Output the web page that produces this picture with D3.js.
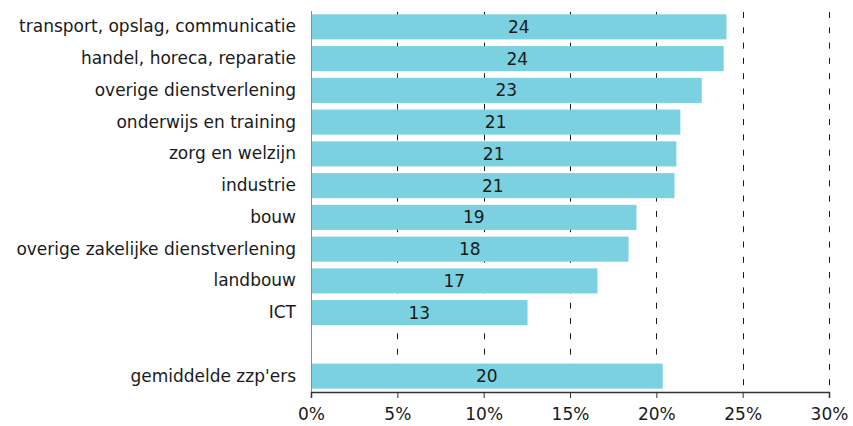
<!DOCTYPE html>
<html>
<head>
<meta charset="utf-8">
<script src="https://cdn.jsdelivr.net/npm/d3@7"></script>
<style>
  body { margin: 0; background: #fff; }
  svg text { font-family: Verdana, "DejaVu Sans", sans-serif; fill: #1a1a1a; }
</style>
</head>
<body>
<div id="chart"></div>
<script>
// categories top to bottom; "" is the empty slot before the average
var categories = [
  "transport, opslag, communicatie",
  "handel, horeca, reparatie",
  "overige dienstverlening",
  "onderwijs en training",
  "zorg en welzijn",
  "industrie",
  "bouw",
  "overige zakelijke dienstverlening",
  "landbouw",
  "ICT",
  "",
  "gemiddelde zzp'ers"
];
var values = [24.06, 23.9, 22.63, 21.39, 21.16, 21.05, 18.85, 18.39, 16.59, 12.54, null, 20.37];
var ticks = [0, 5, 10, 15, 20, 25, 30];

// set the dimensions and margins of the graph
var margin = { top: 11, right: 24, bottom: 34, left: 311 },
  width = 853 - margin.left - margin.right,
  height = 426 - margin.top - margin.bottom;

var data = categories.map(function (c, i) {
  return { key: "c" + i, name: c, value: values[i] };
});

var x = d3.scaleLinear().domain([0, 30]).range([0, width]);
var y = d3.scaleBand()
  .domain(data.map(function (d) { return d.key; }))
  .range([0, height])
  .paddingInner(0.21)
  .paddingOuter(0.105);

var svg = d3.select("#chart")
  .append("svg")
  .attr("width", width + margin.left + margin.right)
  .attr("height", height + margin.top + margin.bottom)
  .append("g")
  .attr("transform", "translate(" + margin.left + "," + margin.top + ")");

// dashed grid lines
svg.selectAll(".grid")
  .data(ticks.slice(1))
  .enter().append("line")
  .attr("class", "grid")
  .attr("x1", function (d) { return Math.round(x(d)) + 0.5; })
  .attr("x2", function (d) { return Math.round(x(d)) + 0.5; })
  .attr("y1", 1)
  .attr("y2", height)
  .attr("stroke", "#1a1a1a")
  .attr("stroke-width", 1)
  .attr("stroke-dasharray", "6,9.3");

var bars = data.filter(function (d) { return d.value !== null; });

// bars
svg.selectAll(".bar")
  .data(bars)
  .enter().append("rect")
  .attr("class", "bar")
  .attr("x", 0)
  .attr("y", function (d) { return y(d.key); })
  .attr("width", function (d) { return x(d.value); })
  .attr("height", y.bandwidth())
  .attr("fill", "#7cd1e0");

// value labels in the middle of each bar
svg.selectAll(".val")
  .data(bars)
  .enter().append("text")
  .attr("class", "val")
  .attr("x", function (d) { return x(d.value) / 2; })
  .attr("y", function (d) { return y(d.key) + y.bandwidth() / 2; })
  .attr("dy", "0.36em")
  .attr("text-anchor", "middle")
  .attr("font-size", "17px")
  .text(function (d) { return Math.round(d.value); });

// y axis
var yAxis = svg.append("g")
  .call(d3.axisLeft(y).tickSize(0).tickPadding(15)
    .tickFormat(function (k) { return data.find(function (d) { return d.key === k; }).name; }));
yAxis.select(".domain").attr("stroke", "#8c8c8c").attr("d", "M0.5,0V" + height);
yAxis.selectAll("text")
  .attr("font-size", "17px")
  .attr("font-family", null)
  .attr("fill", "#1a1a1a");

// x axis
var xAxis = svg.append("g")
  .attr("transform", "translate(0," + height + ")")
  .call(d3.axisBottom(x).tickValues(ticks).tickSize(6).tickPadding(10)
    .tickFormat(function (d) { return d + "%"; }));
xAxis.select(".domain").attr("stroke", "#333").attr("stroke-width", 1.5);
xAxis.selectAll(".tick line").attr("stroke", "#333");
xAxis.selectAll("text")
  .attr("font-size", "17px")
  .attr("font-family", null)
  .attr("fill", "#1a1a1a");
</script>
</body>
</html>
